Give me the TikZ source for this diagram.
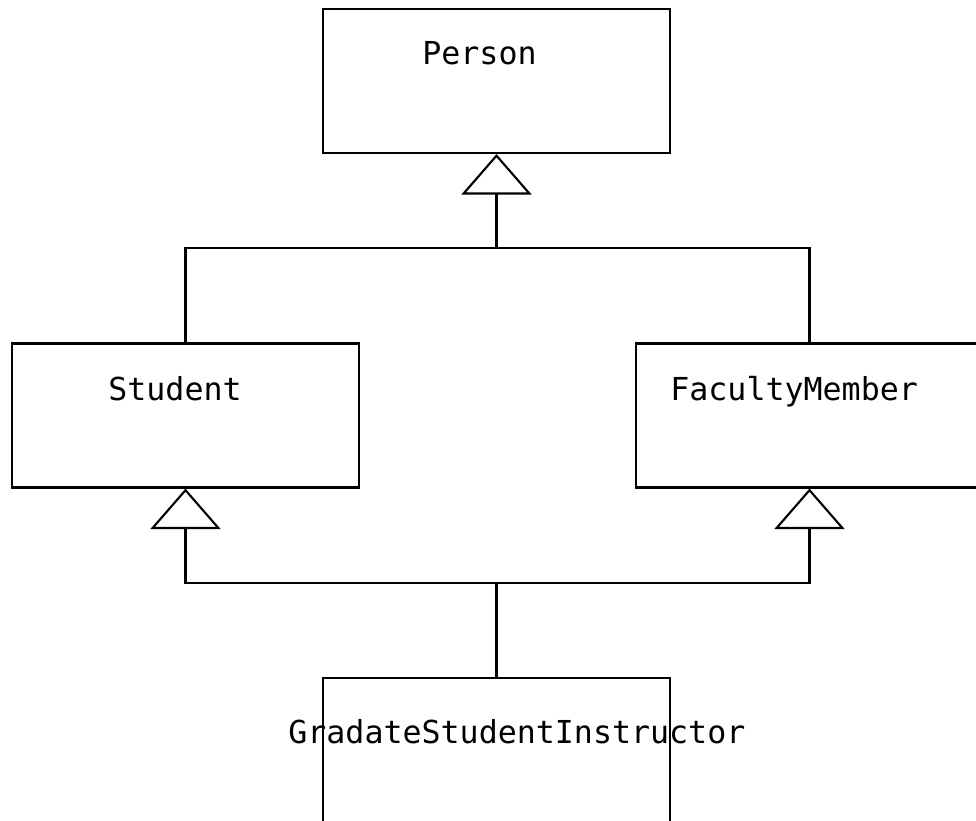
\documentclass[tikz,border=0pt]{standalone}
\usepackage{fontspec}
\setmonofont{DejaVu Sans Mono}
\usepackage{tikz}
\usetikzlibrary{positioning,arrows.meta,calc}
\tikzset{
  classbox/.style={draw, rectangle, line width=1.2pt, minimum width=6.94cm,
                   minimum height=2.88cm, inner sep=0pt},
  classname/.style={anchor=base west, inner sep=0pt,
                    font=\ttfamily\fontsize{18}{20}\selectfont},
  busline/.style={line width=1.2pt},
  inheritarrow/.style={busline, -{Triangle[open, length=8.1mm, width=14mm]}},
}
\begin{document}
\begin{tikzpicture}
\useasboundingbox (0,0) rectangle (19.52,-16.4);

%% Class boxes
\node[classbox] (person) at (9.93,-1.62) {};
\node[classbox] (student) at (3.71,-8.31) {};
\node[classbox] (faculty) at (16.19,-8.31) {};
\node[classbox] (gsi) at (9.93,-15.0) {};

%% Class names
\node[classname] (personname) at (8.44,-1.30) {Person};
\node[classname] (studentname) at (2.16,-8.00) {Student};
\node[classname] (facultyname) at (13.40,-8.00) {FacultyMember};
\node[classname] (gsiname) at (5.76,-14.86) {GradateStudentInstructor};

%% Junction points
\coordinate (topbus) at (9.93,-4.96);
\coordinate (lowbus) at (9.93,-11.66);

%% Upper generalization
\draw[busline] (student.north) |- (topbus) -| (faculty.north);
\draw[inheritarrow] (topbus) -- (person.south);

%% Lower generalization
\draw[inheritarrow] (lowbus) -| (student.south);
\draw[inheritarrow] (lowbus) -| (faculty.south);
\draw[busline] (gsi.north) -- (lowbus);
\end{tikzpicture}
\end{document}
